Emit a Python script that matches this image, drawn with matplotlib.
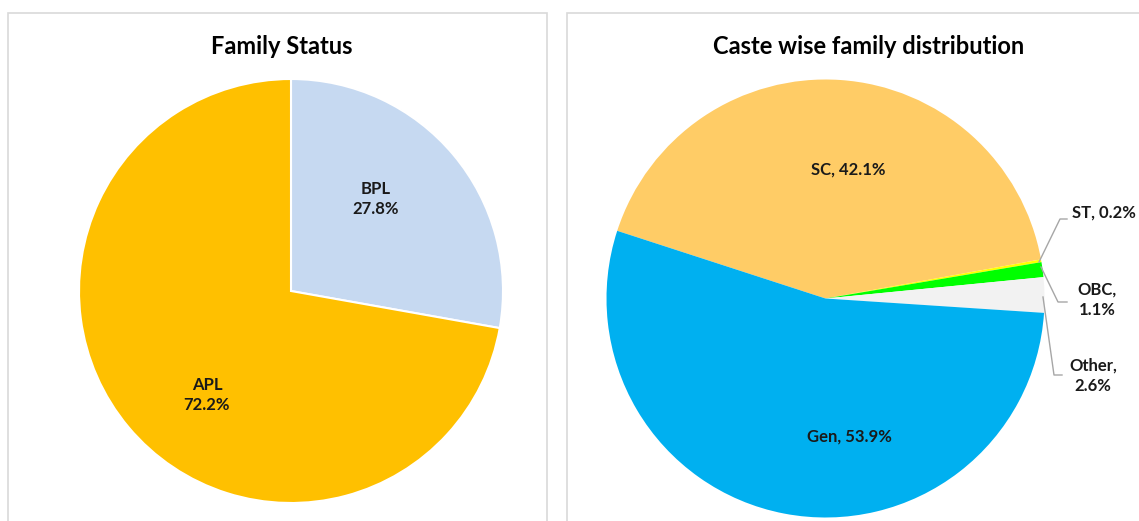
import matplotlib.pyplot as plt
from matplotlib.patches import Rectangle

plt.rcParams['font.family'] = ['Lato', 'DejaVu Sans']

# data
status_labels = ['BPL', 'APL']
status_values = [27.8, 72.2]
status_colors = ['#C6D9F1', '#FFC000']

caste_labels = ['SC', 'ST', 'OBC', 'Other', 'Gen']
caste_values = [42.1, 0.2, 1.1, 2.6, 53.9]
caste_colors = ['#FFCC66', '#FFFF00', '#00FF00', '#F2F2F2', '#00B0F0']

W, H = 1139, 521
fig = plt.figure(figsize=(W / 100, H / 100), dpi=100)
ax = fig.add_axes([0, 0, 1, 1])


def Y(y):
    # image rows -> axis coords
    return H - y


# panel frames
ax.add_patch(Rectangle((8, Y(540)), 539, 527, fill=False, ec='#D9D9D9', lw=1.2))
ax.add_patch(Rectangle((567, Y(540)), 600, 527, fill=False, ec='#D9D9D9', lw=1.2))

# left pie
ax.pie(status_values, colors=status_colors, startangle=90, counterclock=False,
       center=(291, Y(291)), radius=212,
       wedgeprops=dict(edgecolor='white', linewidth=1.5), frame=True)

# right pie
ax.pie(caste_values, colors=caste_colors, startangle=162, counterclock=False,
       center=(825.5, Y(298.5)), radius=219,
       wedgeprops=dict(linewidth=0), frame=True)

ax.set_xlim(0, W)
ax.set_ylim(0, H)
ax.set_aspect('auto')
ax.axis('off')

lab = dict(ha='center', va='center', fontsize=12, fontweight='bold', color='#1A1A1A',
           linespacing=1.35)
ax.text(376, Y(199), f'{status_labels[0]}\n{status_values[0]}%', **lab)
ax.text(207, Y(395), f'{status_labels[1]}\n{status_values[1]}%', **lab)

ax.text(848, Y(170), f'{caste_labels[0]}, {caste_values[0]}%', **lab)
ax.text(849, Y(437), f'{caste_labels[4]}, {caste_values[4]}%', **lab)

# outside labels with leader lines
lc = '#A6A6A6'
ax.plot([1039, 1060, 1067], [Y(262), Y(219), Y(219)], color=lc, lw=1)
ax.text(1072, Y(213), f'{caste_labels[1]}, {caste_values[1]}%',
        **{**lab, 'ha': 'left'})
ax.plot([1041, 1058, 1067], [Y(267), Y(302), Y(302)], color=lc, lw=1)
ax.text(1097, Y(300), f'{caste_labels[2]},\n{caste_values[2]}%', **lab)
ax.plot([1043, 1054, 1062], [Y(297), Y(375), Y(375)], color=lc, lw=1)
ax.text(1093, Y(376), f'{caste_labels[3]},\n{caste_values[3]}%', **lab)

# titles
ax.text(282, Y(46), 'Family Status', ha='center', va='center',
        fontsize=17, fontweight='bold', color='#000000')
ax.text(869, Y(47), 'Caste wise family distribution', ha='center', va='center',
        fontsize=17, fontweight='bold', color='#000000')

fig.savefig('out.png', dpi=100)
